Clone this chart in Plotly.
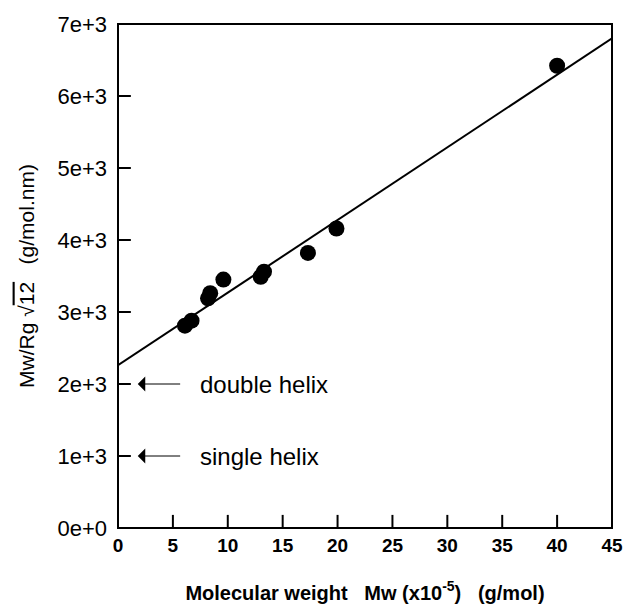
import plotly.graph_objects as go

mw = [6.1, 6.7, 8.2, 8.4, 9.6, 13.0, 13.3, 17.3, 19.9, 40.0]
ratio = [2810, 2880, 3190, 3260, 3450, 3490, 3560, 3820, 4160, 6420]
fit_x = [0, 45]
fit_y = [2260, 6800]
ytick_vals = [0, 1000, 2000, 3000, 4000, 5000, 6000, 7000]
ytick_text = ["0e+0", "1e+3", "2e+3", "3e+3", "4e+3", "5e+3", "6e+3", "7e+3"]
xtick_vals = [0, 5, 10, 15, 20, 25, 30, 35, 40, 45]
xtick_text = ["0", "5", "10", "15", "20", "25", "30", "35", "40", "45"]
helix_labels = ["double helix", "single helix"]
helix_vals = [2000, 1000]

fig = go.Figure()
fig.add_trace(go.Scatter(x=fit_x, y=fit_y, mode="lines",
                         line=dict(color="black", width=2), showlegend=False))
fig.add_trace(go.Scatter(x=mw, y=ratio, mode="markers",
                         marker=dict(color="black", size=16), showlegend=False))

for lab, v in zip(helix_labels, helix_vals):
    fig.add_annotation(x=1.8, y=v, ax=5.8, ay=v, xref="x", yref="y",
                       axref="x", ayref="y", showarrow=True, arrowhead=1,
                       arrowsize=2.5, arrowwidth=1, arrowcolor="black", text="")
    fig.add_annotation(x=7.3, y=v, xref="x", yref="y", text=lab,
                       showarrow=False, xanchor="left",
                       font=dict(size=24, color="black", family="Liberation Sans"))

# frame
fig.add_shape(type="rect", xref="x domain", yref="y domain", x0=0, y0=0, x1=1, y1=1,
              line=dict(color="black", width=2), layer="above")
# inside tick marks (from the tick value lists)
for v in xtick_vals[1:-1]:
    fig.add_shape(type="line", xref="x", yref="y domain", x0=v, x1=v, y0=0, y1=0.026,
                  line=dict(color="black", width=2), layer="above")
for v in ytick_vals[1:-1]:
    fig.add_shape(type="line", xref="x domain", yref="y", x0=0, x1=0.026, y0=v, y1=v,
                  line=dict(color="black", width=2), layer="above")

axis_common = dict(showline=False, ticks="", showgrid=False, zeroline=False,
                   automargin=False)

fig.update_xaxes(range=[0, 45], tickvals=xtick_vals,
                 ticktext=["<b>" + t + "</b>" for t in xtick_text],
                 tickfont=dict(size=19, color="black", family="Liberation Sans"),
                 ticklabelstandoff=4,
                 title=dict(text="<b>Molecular weight   Mw (x10<sup>-5</sup>)   (g/mol)</b>",
                            font=dict(size=20, color="black", family="Liberation Sans"),
                            standoff=30),
                 **axis_common)
fig.update_yaxes(range=[0, 7000], tickvals=ytick_vals, ticktext=ytick_text,
                 tickfont=dict(size=22, color="black", family="Liberation Sans"),
                 ticklabelstandoff=10,
                 title=dict(text="Mw/Rg √<span style='text-decoration:overline'>12</span>   (g/mol.nm)",
                            font=dict(size=21, color="black", family="Liberation Sans"),
                            standoff=17),
                 **axis_common)

fig.update_layout(width=627, height=607, margin=dict(l=118, r=15, t=24, b=79),
                  plot_bgcolor="white", paper_bgcolor="white",
                  font=dict(family="Liberation Sans", color="black"))

fig.write_html("out.html")
